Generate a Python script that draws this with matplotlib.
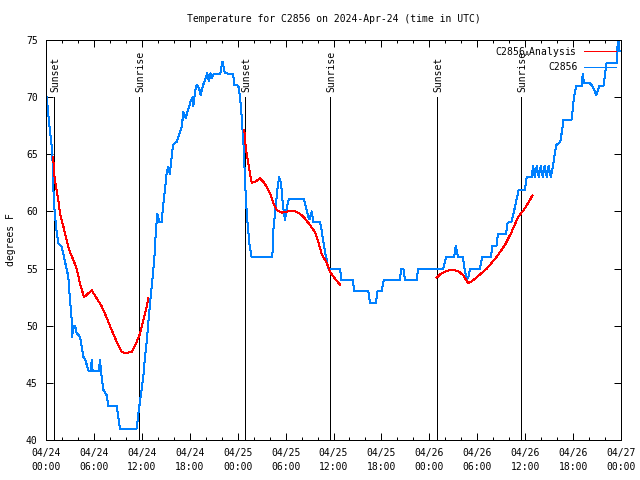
import matplotlib
matplotlib.use('Agg')
import matplotlib.pyplot as plt
import matplotlib.dates as mdates
import matplotlib.transforms as mtransforms
import numpy as np
import pandas as pd

plt.rcParams['font.family'] = ['DejaVu Sans Mono']
plt.rcParams['font.size'] = 7
plt.rcParams['mathtext.fontset'] = 'custom'
plt.rcParams['mathtext.rm'] = 'DejaVu Sans Mono'

START = pd.Timestamp('2024-04-24 00:00')
END = pd.Timestamp('2024-04-27 00:00')

# Observed C2856 temperature (hours since 04/24 00:00 UTC, deg F)
obs_hours = [0.00, 0.10, 0.29, 0.50, 0.71, 0.84, 0.91, 1.00, 1.25, 1.54, 1.97, 2.25, 2.50, 2.79,
             3.00, 3.22, 3.29, 3.38, 3.63, 3.82, 4.26, 4.47, 4.67, 4.97, 5.30, 5.60, 5.72, 5.85,
             6.60, 6.76, 6.90, 6.97, 7.18, 7.60, 7.80, 8.85, 9.05, 9.27, 11.36, 11.56, 11.77,
             12.18, 12.40, 12.60, 12.80, 13.10, 13.36, 13.56, 13.77, 13.94, 14.19, 14.48, 14.70,
             14.90, 15.10, 15.30, 15.50, 15.70, 15.90, 16.36, 16.70, 17.00, 17.20, 17.50, 17.80,
             18.10, 18.37, 18.45, 18.66, 18.87, 19.16, 19.37, 19.70, 19.90, 20.20, 20.40, 20.60,
             20.80, 21.00, 21.80, 22.10, 22.40, 23.45, 23.54, 24.08, 24.30, 24.50, 24.70, 24.80,
             24.90, 25.04, 25.20, 25.46, 25.75, 28.34, 28.47, 28.76, 28.96, 29.20, 29.43, 29.64,
             29.93, 30.14, 30.43, 32.30, 32.43, 32.64, 32.85, 33.00, 33.27, 33.47, 34.30, 34.50,
             34.70, 34.90, 35.15, 35.35, 36.80, 37.00, 38.40, 38.60, 40.36, 40.57, 41.30, 41.50,
             42.00, 42.30, 44.30, 44.50, 44.75, 44.95, 46.40, 46.60, 49.75, 50.10, 51.10, 51.30,
             51.60, 52.20, 52.40, 52.70, 52.90, 53.10, 54.35, 54.60, 55.70, 55.90, 56.40, 56.60,
             57.60, 57.80, 58.30, 58.60, 58.90, 59.20, 59.95, 60.20, 60.80, 61.00, 61.20, 61.45,
             61.70, 61.95, 62.20, 62.45, 62.70, 62.95, 63.20, 63.50, 63.70, 63.90, 64.40, 64.60,
             64.80, 65.80, 65.95, 66.10, 66.40, 67.10, 67.20, 67.40, 68.10, 68.40, 68.90, 69.30,
             69.80, 70.00, 70.20, 71.50, 71.55, 71.70, 71.80, 72.00]
obs_temp = [70, 70, 68.5, 67, 65.7, 64.2, 62.2, 60.7, 58.7, 57.2, 56.9, 56, 55.2, 54.3,
            52.3, 50.5, 49.0, 50, 50, 49.4, 49, 48.2, 47.3, 46.9, 46.1, 46, 47, 46,
            46, 47, 46, 45.5, 44.4, 43.9, 43, 43, 42, 41, 41, 42.3, 43.4,
            45.5, 47.3, 48.5, 50.2, 52.5, 54.3, 55.8, 58.4, 59.8, 59.1, 59.1, 60.7,
            61.9, 63.3, 63.9, 63.3, 64.5, 65.8, 66.1, 66.8, 67.4, 68.7, 68.2, 68.9,
            69.6, 70.0, 69.2, 70.5, 71.1, 70.8, 70.2, 71.1, 71.5, 72.1, 71.4, 72.1,
            71.7, 72, 72, 73.1, 72.1, 72, 71.1, 71, 70, 68.3, 66.2, 65.0,
            63, 61, 59.3, 57.2, 56, 56, 58.4, 60.4, 61.9, 63.0, 62.5, 60.7,
            59.25, 60.3, 61.1, 61.1, 60.7, 60.1, 59.5, 59.3, 60, 59.1, 59.1, 58.4,
            57.5, 56.6, 55.75, 55, 55, 54, 54, 53, 53, 52, 52, 53,
            53, 54, 54, 55, 55, 54, 54, 55, 55, 56, 56, 57,
            56, 56, 55, 54, 54.3, 55, 55, 56, 56, 57, 57, 58,
            58, 59, 59.1, 60, 61, 61.9, 61.9, 63, 63, 64, 63, 64,
            63, 64, 63, 64, 63, 64, 63, 64, 65, 65.8, 66.1, 67,
            68, 68, 68.9, 70, 71, 71, 72, 71.2, 71.2, 71, 70.2, 71,
            71, 72, 73, 73, 74.4, 75, 74, 74]

# C2856_Analysis (three nightly segments, NaN separates them)
ana_hours = [0.91, 1.00, 1.25, 1.54, 1.75, 2.17, 2.59, 2.92, 3.42, 3.84, 4.26, 4.76, 5.72, 6.35,
             6.97, 7.60, 8.23, 8.85, 9.48, 9.90, 10.73, 11.36, 11.77, 12.18, 12.52, 12.81,
             np.nan,
             24.83, 25.04, 25.40, 25.76, 26.20, 26.80, 27.20, 27.60, 28.05, 28.47, 28.90, 29.50,
             30.30, 31.20, 31.80, 32.40, 33.06, 33.68, 34.10, 34.50, 35.15, 35.56, 36.20, 36.80,
             np.nan,
             48.90, 49.55, 50.60, 51.60, 52.25, 52.90, 53.70, 55.20, 56.40, 57.50, 58.30, 59.10,
             59.80, 60.60, 60.90]
ana_temp = [64.8, 63.3, 62.2, 61, 59.8, 58.7, 57.5, 56.6, 55.75, 55, 53.7, 52.5, 53.1, 52.4,
            51.7, 50.7, 49.6, 48.6, 47.7, 47.6, 47.7, 48.6, 49.3, 50.5, 51.4, 52.4,
            np.nan,
            67.1, 65.4, 63.9, 62.5, 62.6, 62.9, 62.6, 62.2, 61.6, 60.7, 60.1, 59.9,
            60, 60, 59.8, 59.4, 58.8, 58.2, 57.35, 56.3, 55.5, 54.7, 54.1, 53.6,
            np.nan,
            54.2, 54.6, 54.9, 54.8, 54.4, 53.7, 54.1, 55, 56, 57.1, 58.2, 59.5,
            60.1, 61, 61.4]

sun_hours = [1.00, 11.68, 24.96, 35.56, 49.00, 59.50]
sun_labels = ['Sunset', 'Sunrise', 'Sunset', 'Sunrise', 'Sunset', 'Sunrise']
sun_line_top = 70

y_ticks = [40, 45, 50, 55, 60, 65, 70, 75]

LW = 0.72  # one pixel at 100 dpi
RED = '#ff0000'
BLUE = '#0080ff'

def to_time(hours):
    return [START + pd.Timedelta(hours=h) if not np.isnan(h) else pd.NaT for h in hours]

fig = plt.figure(figsize=(6.4, 4.8), dpi=100)
ax = fig.add_axes([46/640, 1-440/480, 575/640, 400/480])

obs_t = to_time(obs_hours)
ana_t = to_time(ana_hours)

sun_t = to_time(sun_hours)
for t, lab in zip(sun_t, sun_labels):
    ax.plot([t, t], [40, sun_line_top], color='black', lw=LW, antialiased=False, zorder=1)
    tr = mtransforms.offset_copy(ax.transData, fig=fig, x=1.5, y=0, units='dots')
    ax.text(t, sun_line_top + 0.45, lab, rotation=90, ha='center', va='bottom',
            transform=tr, fontsize=7)

ana_x = np.array([np.nan if pd.isna(t) else mdates.date2num(t) for t in ana_t])
obs_x = np.array([mdates.date2num(t) for t in obs_t])
l1, = ax.plot(ana_x, ana_temp, color=RED, lw=LW, antialiased=False, zorder=3,
              label='C2856$_{\\mathregular{A}}$Analysis')
l2, = ax.plot(obs_x, obs_temp, color=BLUE, lw=LW, antialiased=False, zorder=2,
              label='C2856')

ax.set_xlim(mdates.date2num(START), mdates.date2num(END))
ax.set_ylim(40, 75)
ax.set_yticks(y_ticks)

ax.xaxis.set_major_locator(mdates.HourLocator(byhour=[0, 6, 12, 18]))
ax.xaxis.set_minor_locator(mdates.HourLocator(byhour=range(0, 24, 2)))
ax.xaxis.set_major_formatter(mdates.DateFormatter('%m/%d\n%H:%M'))
for lab in ax.get_xticklabels():
    lab.set_linespacing(1.5)

ax.tick_params(axis='both', which='both', direction='in', top=True, right=True,
               labelsize=7, width=LW, colors='black')
ax.tick_params(axis='both', which='major', length=5)
ax.tick_params(axis='both', which='minor', length=2.5)
ax.tick_params(axis='x', which='major', pad=6)
ax.tick_params(axis='y', which='major', pad=6)
for s in ax.spines.values():
    s.set_linewidth(LW)
    s.set_color('black')

ax.set_ylabel('degrees F', fontsize=7)
ax.yaxis.set_label_coords(-30/575, 0.5)

fig.text(333.5/640, 1-19/480, 'Temperature for C2856 on 2024-Apr-24 (time in UTC)',
         ha='center', va='center', fontsize=7)

leg = ax.legend(handles=[l1, l2], loc='upper right', frameon=False, markerfirst=False,
                fontsize=7, handlelength=3.3, handletextpad=0.7, labelspacing=0.35,
                borderaxespad=0.3, borderpad=0.2)
for h, c in zip(leg.legend_handles, [RED, BLUE]):
    h.set_linewidth(LW)
    h.set_color(c)
    h.set_antialiased(False)

fig.savefig('out.png', dpi=100)
